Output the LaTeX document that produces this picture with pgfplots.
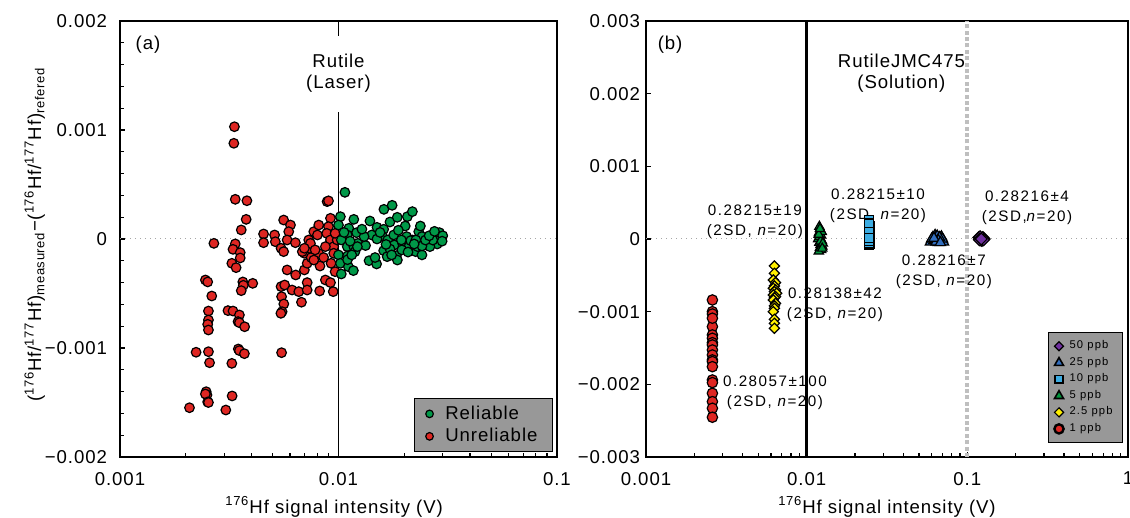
\documentclass[border=0pt]{standalone}
\usepackage{fontspec}
\setmainfont{Liberation Sans}[LetterSpace=5]
\usepackage{pgfplots}
\pgfplotsset{compat=1.18}
\definecolor{cred}{RGB}{222,38,34}
\definecolor{cgreen}{RGB}{0,152,72}
\definecolor{legbg}{RGB}{152,152,152}
\definecolor{cpurple}{RGB}{112,48,160}
\definecolor{cblueA}{RGB}{50,110,190}
\definecolor{cblueB}{RGB}{60,172,226}
\definecolor{cgreenB}{RGB}{0,150,60}
\definecolor{cyellow}{RGB}{255,240,0}
\newcommand{\tk}{\fontsize{9.3}{11}\selectfont}
\newcommand{\ann}{\fontsize{7.6}{10}\selectfont\addfontfeatures{LetterSpace=10}}
\pgfplotsset{
  mybase/.style={
    scale only axis, height=218pt,
    tick pos=left, tick align=inside,
    major tick length=2.6pt, minor tick length=2pt,
    every tick/.style={black, line width=0.6pt},
    axis line style={line width=0.9pt},
    tick label style={font=\tk},
    scaled y ticks=false,
    xlabel={\textsuperscript{176}Hf signal intensity (V)},
    xlabel style={font=\tk, anchor=center},
    xticklabel style={yshift=-4pt},
  },
  redm/.style={only marks, mark=*, mark size=2.4pt, mark options={fill=cred, draw=black, line width=0.6pt}},
  grnm/.style={only marks, mark=*, mark size=2.4pt, mark options={fill=cgreen, draw=black, line width=0.6pt}},
}
\begin{document}
\begin{tikzpicture}
\useasboundingbox (0,0) rectangle (565pt,259pt);
% ---------------- panel (a)
\begin{axis}[xmode=log, mybase,
  at={(60pt,30.5pt)}, anchor=south west, width=218.5pt,
  xmin=0.001, xmax=0.1, ymin=-0.002, ymax=0.002,
  xtick={0.001,0.01,0.1}, xticklabels={0.001,0.01,0.1},
  minor xtick={0.002,0.003,0.004,0.005,0.006,0.007,0.008,0.009,0.02,0.03,0.04,0.05,0.06,0.07,0.08,0.09},
  ytick={-0.002,-0.001,0,0.001,0.002},
  yticklabels={−0.002,−0.001,0,0.001,0.002},
  minor y tick num=4,
  yticklabel style={xshift=-3pt},
  ylabel={(\textsuperscript{176}Hf/\textsuperscript{177}Hf)\textsubscript{measured}−(\textsuperscript{176}Hf/\textsuperscript{177}Hf)\textsubscript{refered}},
  ylabel style={font=\tk, at={(axis description cs:-0.195,0.51)}, anchor=center},
  xlabel style={at={(axis description cs:0.49,-0.115)}},
  legend style={at={(axis description cs:0.991,0.011)}, anchor=south east,
    fill=legbg, draw=black, line width=0.6pt, font=\tk, row sep=-1pt,
    column sep=4pt, inner xsep=5.5pt, inner ysep=1.5pt},
  legend cell align=left,
]
\addlegendimage{only marks, mark=*, mark size=1.9pt, mark options={fill=cgreen, draw=black, line width=0.6pt}}
\addlegendentry{Reliable\hspace{14pt}}
\addlegendimage{only marks, mark=*, mark size=1.9pt, mark options={fill=cred, draw=black, line width=0.6pt}}
\addlegendentry{Unreliable\hspace{14pt}}
\addplot[forget plot, gray!70, dotted, line width=0.5pt] coordinates {(0.001,0) (0.1,0)};
\addplot[forget plot, black, line width=0.6pt] coordinates {(0.01,0.002) (0.01,0.001862)};
\addplot[forget plot, black, line width=0.6pt] coordinates {(0.01,0.001165) (0.01,-0.002)};
\addplot[redm, forget plot] coordinates {
(0.00334,1.030e-3) (0.00332,0.878e-3) (0.00337,0.364e-3) (0.00381,0.351e-3) (0.00378,0.180e-3)
(0.00359,0.083e-3) (0.00269,-0.040e-3) (0.00337,-0.045e-3) (0.00329,-0.095e-3) (0.00355,-0.125e-3)
(0.00355,-0.174e-3) (0.00325,-0.223e-3) (0.00340,-0.263e-3) (0.00246,-0.376e-3) (0.00252,-0.394e-3)
(0.00263,-0.523e-3) (0.00365,-0.394e-3) (0.00367,-0.425e-3) (0.00359,-0.474e-3) (0.00405,-0.407e-3)
(0.00254,-0.661e-3) (0.00254,-0.743e-3) (0.00252,-0.783e-3) (0.00254,-0.835e-3) (0.00312,-0.657e-3)
(0.00329,-0.661e-3) (0.00352,-0.697e-3) (0.00347,-0.758e-3) (0.00352,-0.768e-3) (0.00372,-0.805e-3)
(0.00223,-1.039e-3) (0.00254,-1.034e-3) (0.00257,-1.135e-3) (0.00348,-1.009e-3) (0.00352,-1.024e-3)
(0.00371,-1.052e-3) (0.00325,-1.141e-3) (0.00549,-1.043e-3) (0.00248,-1.401e-3) (0.00250,-1.431e-3)
(0.00326,-1.440e-3) (0.00246,-1.422e-3) (0.00252,-1.495e-3) (0.00254,-1.50e-3) (0.00208,-1.548e-3)
(0.00305,-1.569e-3)
(0.00454,0.046e-3) (0.00454,-0.034e-3) (0.00510,0.037e-3) (0.00514,-0.025e-3) (0.00561,0.174e-3)
(0.00603,0.128e-3) (0.00592,0.067e-3) (0.00546,-0.085e-3) (0.00561,-0.116e-3) (0.00582,-0.009e-3)
(0.00635,-0.034e-3) (0.00582,-0.284e-3) (0.00637,-0.330e-3) (0.00546,-0.437e-3) (0.00567,-0.422e-3)
(0.00613,-0.468e-3) (0.00658,-0.483e-3) (0.00549,-0.529e-3) (0.00562,-0.596e-3) (0.00552,-0.667e-3)
(0.00545,-0.682e-3) (0.00677,-0.580e-3) (0.00719,-0.400e-3) (0.00719,-0.468e-3) (0.00820,-0.477e-3)
(0.00871,-0.376e-3) (0.00919,-0.400e-3) (0.00946,-0.483e-3) (0.00698,-0.284e-3) (0.00698,-0.131e-3)
(0.00683,-0.116e-3) (0.00731,-0.009e-3) (0.00737,-0.085e-3) (0.00719,-0.223e-3) (0.00750,-0.170e-3)
(0.00771,0.067e-3) (0.00812,0.128e-3) (0.00801,0.037e-3) (0.00812,-0.131e-3) (0.00823,-0.248e-3)
(0.00771,-0.193e-3) (0.00887,0.343e-3) (0.00900,0.350e-3) (0.00919,0.190e-3) (0.00900,0.113e-3)
(0.00883,0.052e-3) (0.00919,-0.009e-3) (0.00951,-0.070e-3) (0.00871,-0.070e-3) (0.00855,-0.170e-3)
(0.00951,-0.131e-3) (0.00925,-0.223e-3) (0.00965,-0.300e-3) (0.00986,-0.009e-3) (0.00965,0.052e-3)
(0.00744,-0.040e-3) (0.00782,-0.100e-3) (0.00698,-0.085e-3)
};
\addplot[grnm, forget plot] coordinates {
(0.0107,0.428e-3) (0.0102,0.205e-3) (0.01175,0.180e-3) (0.01115,0.098e-3) (0.0121,0.058e-3)
(0.01097,0.037e-3) (0.0100,0.128e-3) (0.0103,-0.009e-3) (0.01097,-0.070e-3) (0.01175,-0.070e-3)
(0.0100,-0.146e-3) (0.0110,-0.155e-3) (0.0119,-0.116e-3) (0.0102,-0.223e-3) (0.0111,-0.254e-3)
(0.0103,-0.321e-3) (0.0117,-0.290e-3) (0.01227,-0.040e-3) (0.0133,-0.060e-3) (0.01393,0.165e-3)
(0.0138,-0.199e-3) (0.01494,-0.229e-3) (0.0147,-0.170e-3) (0.0142,0.037e-3) (0.0150,0.107e-3)
(0.01614,0.272e-3) (0.0176,0.309e-3) (0.0172,0.156e-3) (0.01858,0.199e-3) (0.02066,0.205e-3)
(0.02178,0.251e-3) (0.0202,0.119e-3) (0.0161,0.089e-3) (0.0159,0.022e-3) (0.0168,-0.009e-3)
(0.0180,-0.055e-3) (0.0197,-0.046e-3) (0.0161,-0.107e-3) (0.0167,-0.162e-3) (0.0184,-0.153e-3)
(0.0186,-0.193e-3) (0.0172,-0.092e-3) (0.0205,0.022e-3) (0.0218,-0.009e-3) (0.02255,-0.116e-3)
(0.0233,0.067e-3) (0.0237,0.119e-3) (0.0241,-0.146e-3) (0.0241,0.022e-3) (0.02816,0.046e-3)
(0.0286,0.022e-3) (0.0283,-0.046e-3) (0.0290,0.058e-3) (0.0262,-0.070e-3) (0.0230,-0.070e-3)
(0.0210,-0.070e-3) (0.0214,-0.015e-3) (0.0179,0.037e-3) (0.0131,0.022e-3) (0.0150,0.000e-3)
(0.0194,-0.009e-3) (0.0226,-0.009e-3) (0.0241,-0.064e-3) (0.0222,-0.046e-3) (0.0175,-0.146e-3)
(0.0110,-0.190e-3) (0.0115,-0.146e-3) (0.0122,-0.070e-3) (0.0270,-0.010e-3) (0.0250,-0.010e-3)
(0.0155,0.060e-3) (0.0188,0.080e-3) (0.0165,-0.050e-3) (0.0128,0.090e-3) (0.0106,0.060e-3)
(0.0113,-0.020e-3) (0.0195,-0.100e-3) (0.0208,-0.120e-3) (0.0260,0.030e-3) (0.0275,0.070e-3)
(0.0300,0.030e-3) (0.0298,-0.020e-3)
};
\node[font=\fontsize{9.3}{11}\selectfont] at (axis description cs:0.064,0.945) {(a)};
\node[font=\fontsize{9.3}{10.5}\selectfont, align=center] at (axis description cs:0.5,0.881) {Rutile\\(Laser)};
\end{axis}
% ---------------- panel (b)
\begin{axis}[xmode=log, mybase,
  at={(323pt,30.5pt)}, anchor=south west, width=241pt,
  xmin=0.001, xmax=1, ymin=-0.003, ymax=0.003,
  xtick={0.001,0.01,0.1,1}, xticklabels={0.001,0.01,0.1,1},
  minor xtick={0.002,0.003,0.004,0.005,0.006,0.007,0.008,0.009,0.02,0.03,0.04,0.05,0.06,0.07,0.08,0.09,0.2,0.3,0.4,0.5,0.6,0.7,0.8,0.9},
  ytick={-0.003,-0.002,-0.001,0,0.001,0.002,0.003},
  yticklabels={−0.003,−0.002,−0.001,0,0.001,0.002,0.003},
  yticklabel style={xshift=0.5pt},
  xlabel style={at={(axis description cs:0.5,-0.115)}},
  legend style={at={(axis description cs:0.990,0.032)}, anchor=south east,
    fill=legbg, draw=black, line width=0.6pt,
    font=\fontsize{5.6}{6.5}\selectfont\addfontfeatures{LetterSpace=10},
    row sep=-1.3pt, column sep=1pt, inner xsep=3pt, inner ysep=2pt},
  legend cell align=left,
]
\addplot[forget plot, gray!70, dotted, line width=0.5pt] coordinates {(0.001,0) (1,0)};
\addplot[forget plot, black, line width=1.5pt] coordinates {(0.01,-0.003) (0.01,0.003)};
\addplot[forget plot, black!25, line width=2pt, dash pattern=on 2pt off 1.2pt] coordinates {(0.1,-0.003) (0.1,0.003)};
% legend images
\addlegendimage{only marks, mark=square*, mark size=1.6pt, mark options={rotate=45, fill=cpurple, draw=black, line width=0.6pt}}
\addlegendentry{50 ppb}
\addlegendimage{only marks, mark=triangle*, mark size=2.6pt, mark options={fill=cblueA, draw=black, line width=0.8pt}}
\addlegendentry{25 ppb}
\addlegendimage{only marks, mark=square*, mark size=1.9pt, mark options={fill=cblueB, draw=black, line width=0.8pt}}
\addlegendentry{10 ppb}
\addlegendimage{only marks, mark=triangle*, mark size=2.6pt, mark options={fill=cgreenB, draw=black, line width=0.8pt}}
\addlegendentry{5 ppb}
\addlegendimage{only marks, mark=square*, mark size=1.6pt, mark options={rotate=45, fill=cyellow, draw=black, line width=0.6pt}}
\addlegendentry{2.5 ppb}
\addlegendimage{only marks, mark=*, mark size=2.3pt, mark options={fill=cred, draw=black, line width=1.2pt}}
\addlegendentry{1 ppb}
% data
\addplot[forget plot, only marks, mark=square*, mark size=2.1pt, mark options={rotate=45, fill=cpurple, draw=black, line width=0.6pt}] coordinates {
(0.118,0.02e-3) (0.121,-0.01e-3) (0.124,0.01e-3) (0.127,0.0e-3) (0.120,0.03e-3) (0.123,-0.02e-3)
(0.125,0.02e-3) (0.119,-0.01e-3) (0.126,-0.01e-3) (0.122,0.0e-3)
};
\addplot[forget plot, only marks, mark=triangle*, mark size=3pt, mark options={fill=cblueA, draw=black, line width=0.6pt}] coordinates {
(0.059,-0.04e-3) (0.061,0.02e-3) (0.063,0.05e-3) (0.065,0.00e-3) (0.067,-0.03e-3) (0.069,0.03e-3)
(0.071,-0.04e-3) (0.062,-0.02e-3) (0.064,0.03e-3) (0.066,-0.05e-3) (0.068,0.01e-3) (0.070,0.00e-3)
(0.060,0.00e-3) (0.063,-0.01e-3) (0.065,0.04e-3) (0.067,0.02e-3) (0.066,-0.02e-3) (0.064,-0.04e-3)
(0.062,0.01e-3) (0.068,-0.05e-3)
};
\addplot[forget plot, only marks, mark=square*, mark size=2.3pt, mark options={fill=cblueB, draw=black, line width=0.6pt}] coordinates {
(0.0245,0.26e-3) (0.0245,0.22e-3) (0.0246,0.18e-3) (0.0245,0.14e-3) (0.0244,0.10e-3) (0.0245,0.06e-3)
(0.0246,0.02e-3) (0.0245,-0.02e-3) (0.0244,-0.05e-3) (0.0245,-0.08e-3) (0.0246,0.12e-3) (0.0245,0.04e-3)
(0.0245,0.00e-3) (0.0244,0.08e-3) (0.0246,-0.06e-3) (0.0245,0.16e-3) (0.0245,0.20e-3) (0.0244,-0.03e-3)
(0.0246,0.09e-3) (0.0245,0.01e-3)
};
\addplot[forget plot, only marks, mark=triangle*, mark size=2.7pt, mark options={fill=cgreenB, draw=black, line width=0.6pt}] coordinates {
(0.0120,0.17e-3) (0.0122,0.12e-3) (0.0119,0.08e-3) (0.0123,0.05e-3) (0.0121,0.02e-3) (0.0118,0.00e-3)
(0.0124,-0.02e-3) (0.0120,-0.05e-3) (0.0122,-0.08e-3) (0.0125,-0.10e-3) (0.0121,-0.12e-3) (0.0123,-0.15e-3)
(0.0119,-0.17e-3) (0.0124,0.10e-3) (0.0120,0.03e-3) (0.0122,-0.03e-3) (0.0126,-0.06e-3) (0.0119,0.06e-3)
(0.0125,-0.13e-3) (0.0121,0.14e-3)
};
\addplot[forget plot, only marks, mark=square*, mark size=1.8pt, mark options={rotate=45, fill=cyellow, draw=black, line width=0.6pt}] coordinates {
(0.0063,-0.371e-3) (0.0063,-0.472e-3) (0.0062,-0.564e-3) (0.0064,-0.600e-3) (0.0063,-0.646e-3)
(0.0062,-0.678e-3) (0.0064,-0.701e-3) (0.0063,-0.724e-3) (0.0065,-0.747e-3) (0.0062,-0.770e-3)
(0.0064,-0.793e-3) (0.0063,-0.810e-3) (0.0062,-0.839e-3) (0.0064,-0.885e-3) (0.0063,-0.920e-3)
(0.0063,-0.954e-3) (0.0062,-1.000e-3) (0.0063,-1.105e-3) (0.0063,-1.160e-3) (0.0063,-1.229e-3)
};
\addplot[forget plot, only marks, mark=*, mark size=2.6pt, mark options={fill=cred, draw=black, line width=0.6pt}] coordinates {
(0.00259,-0.839e-3) (0.00259,-1.000e-3) (0.00259,-1.032e-3) (0.00259,-1.206e-3) (0.00259,-1.320e-3)
(0.00259,-1.366e-3) (0.00259,-1.427e-3) (0.00259,-1.458e-3) (0.00259,-1.527e-3) (0.00259,-1.596e-3)
(0.00259,-1.664e-3) (0.00259,-1.687e-3) (0.00259,-1.757e-3) (0.00259,-1.940e-3) (0.00259,-1.976e-3)
(0.00259,-2.123e-3) (0.00259,-2.238e-3) (0.00259,-2.329e-3) (0.00259,-2.453e-3) (0.00259,-1.090e-3)
};
\node[font=\fontsize{9.3}{11}\selectfont] at (axis description cs:0.05,0.945) {(b)};
\node[font=\fontsize{9.3}{10.5}\selectfont, align=center] at (axis description cs:0.530,0.881) {RutileJMC475\\(Solution)};
\node[font=\ann, align=center] at (axis cs:0.00476,0.234e-3) {0.28215±19\\(2SD, \textit{n}=20)};
\node[font=\ann, align=center] at (axis cs:0.0278,0.454e-3) {0.28215±10\\(2SD, \textit{n}=20)};
\node[font=\ann, align=center] at (axis cs:0.235,0.426e-3) {0.28216±4\\(2SD,\textit{n}=20)};
\node[font=\ann, align=center] at (axis cs:0.0714,-0.454e-3) {0.28216±7\\(2SD, \textit{n}=20)};
\node[font=\ann, align=center] at (axis cs:0.0150,-0.908e-3) {0.28138±42\\(2SD, \textit{n}=20)};
\node[font=\ann, align=center] at (axis cs:0.00635,-2.118e-3) {0.28057±100\\(2SD, \textit{n}=20)};
\end{axis}
\end{tikzpicture}
\end{document}
